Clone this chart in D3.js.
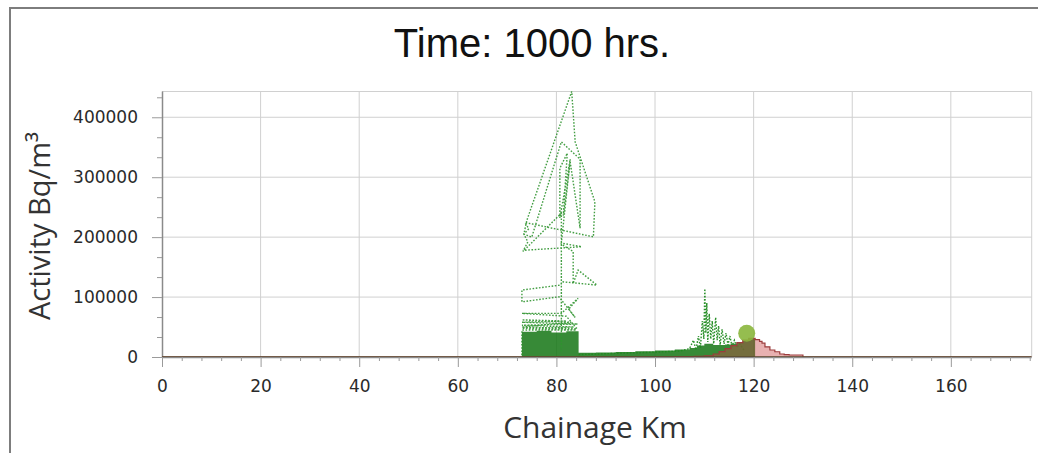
<!DOCTYPE html>
<html>
<head>
<meta charset="utf-8">
<script src="https://cdn.jsdelivr.net/npm/d3@7"></script>
<style>
  html, body { margin: 0; padding: 0; background: #ffffff; }
  svg { display: block; }
</style>
</head>
<body>
<svg id="chart" width="1038" height="453"></svg>
<script>
// ---- data ----------------------------------------------------------------
const titleText = "Time: 1000 hrs.";
const xTitle = "Chainage Km";
const yTitle = "Activity Bq/m³";

const xMajorTicks = [0, 20, 40, 60, 80, 100, 120, 140, 160];
const yMajorTicks = [0, 100000, 200000, 300000, 400000];

// predicted activity profile (stepped, pink)
const profileKm  = [0, 100, 104, 108, 110, 111.8, 113, 114.2, 115.4, 116.6, 117.8, 119, 120.3, 121.2, 121.7, 122.3, 123.3, 124.3, 125.3, 126.2, 127.2, 128.7, 130, 176.4];
const profileVal = [0, 0, 500, 1000, 2000, 5000, 9000, 14000, 19000, 24000, 28000, 31000, 29000, 26000, 23000, 17000, 11700, 8800, 5000, 4000, 3300, 3300, 0, 0];

// measured activity envelope (green fill)
const bandKm  = [73, 76, 79, 82, 84.5, 88, 92, 96, 100, 104, 107, 108.5, 110, 111.8, 113, 114.2, 115.4, 116.6, 117.8, 119, 120.3, 176.4];
const bandVal = [42000, 44000, 41000, 43000, 7000, 7500, 8500, 9500, 11000, 12500, 15000, 19000, 22000, 20000, 20000, 21000, 22000, 25000, 28000, 31000, 0, 0];

// survey trace, first cluster (km, Bq/m³ in recorded order)
const traceAKm = [73.0, 73.0, 84.0, 73.0, 83.5, 73.0, 84.3, 73.0, 82.0, 73.0, 83.0, 73.0, 84.2, 82.0, 73.0, 81.0, 84.4, 82.5, 83.8, 80.5, 73.0, 73.0, 80.8, 81.2, 88.2, 84.4, 83.4, 83.4, 81.0, 81.0, 81.0, 73.2, 74.2, 73.4, 74.4, 73.6, 74.6, 87.5, 87.8, 83.8, 83.1, 74.0, 73.4, 75.0, 81.0, 84.8, 84.8, 82.8, 81.4, 82.2, 80.7, 80.7, 82.8, 81.0, 85.1, 73.2];
const traceAVal = [3000, 45000, 45000, 48000, 50000, 53000, 55000, 58000, 60000, 62000, 58000, 50000, 47000, 68000, 72800, 72800, 97800, 80000, 66000, 100500, 92000, 111700, 120000, 125500, 120000, 145000, 122800, 176000, 188000, 8000, 240000, 176000, 192000, 205000, 214000, 224000, 222800, 200500, 259000, 359000, 443000, 228000, 205000, 200000, 359000, 330000, 215000, 325000, 236000, 340000, 315000, 232000, 330000, 190000, 184000, 178000];

// survey trace, second cluster
const traceBKm  = [84.5, 92, 100, 105, 107, 107.8, 108.3, 108.8, 109.2, 109.6, 109.9, 110.1, 110.3, 110.5, 110.7, 111.0, 111.3, 111.6, 111.9, 112.3, 112.6, 112.9, 113.2, 113.6, 114.0, 114.4, 114.8, 115.2, 115.6, 116.1, 116.6, 117.2, 118.0];
const traceBVal = [4000, 6000, 8000, 10000, 14000, 28000, 12000, 35000, 15000, 60000, 30000, 114000, 40000, 90000, 25000, 72000, 30000, 60000, 22000, 66000, 28000, 52000, 20000, 46000, 22000, 40000, 20000, 35000, 18000, 28000, 16000, 22000, 12000];

// current position marker
const markerKm = [118.6];
const markerVal = [39500];

// ---- layout ----------------------------------------------------------------
const svg = d3.select("#chart");
const plot = { left: 162, right: 1031.7, top: 91.5, bottom: 357 };

const x = d3.scaleLinear().domain([0, 176.4]).range([plot.left, plot.right]);
const y = d3.scaleLinear().domain([0, 443000]).range([plot.bottom, plot.top]);

// outer frame (left and top edges only visible)
svg.append("path")
  .attr("d", `M10,453 L10,8 L1040,8`)
  .attr("fill", "none").attr("stroke", "#7d7d7d").attr("stroke-width", 2);

// title
svg.append("text")
  .attr("x", 532).attr("y", 57)
  .attr("text-anchor", "middle")
  .attr("font-family", "'Liberation Sans', Arial, sans-serif")
  .attr("font-size", 40).attr("fill", "#111")
  .text(titleText);

// gridlines
const grid = svg.append("g").attr("stroke", "#d0d0d0").attr("stroke-width", 1);
xMajorTicks.filter(v => v > 0).forEach(v => {
  grid.append("line").attr("x1", x(v)).attr("x2", x(v)).attr("y1", plot.top).attr("y2", plot.bottom);
});
yMajorTicks.filter(v => v > 0).forEach(v => {
  grid.append("line").attr("x1", plot.left).attr("x2", plot.right).attr("y1", y(v)).attr("y2", y(v));
});
grid.append("line").attr("x1", plot.left).attr("x2", plot.right).attr("y1", plot.top).attr("y2", plot.top);
grid.append("line").attr("x1", plot.right).attr("x2", plot.right).attr("y1", plot.top).attr("y2", plot.bottom);

// axes
const xMinor = d3.range(0, 177, 4).filter(v => v % 20 !== 0);
const yMinor = d3.range(0, 443000, 100000 / 3).filter((v, i) => i % 3 !== 0);

const xAxis = svg.append("g").attr("transform", `translate(0,${plot.bottom})`);
xAxis.call(d3.axisBottom(x).tickValues(xMajorTicks).tickSize(10).tickPadding(13).tickFormat(d3.format("d")));
xAxis.append("g").call(d3.axisBottom(x).tickValues(xMinor).tickSize(4).tickFormat(""))
  .select(".domain").remove();

const yAxis = svg.append("g").attr("transform", `translate(${plot.left},0)`);
yAxis.call(d3.axisLeft(y).tickValues(yMajorTicks).tickSize(10).tickPadding(14).tickFormat(d3.format("d")));
yAxis.append("g").call(d3.axisLeft(y).tickValues(yMinor).tickSize(5).tickFormat(""))
  .select(".domain").remove();

svg.selectAll(".domain").attr("stroke", "#8a8a8a").attr("stroke-width", 1.5);
xAxis.select(".domain").attr("d", `M${plot.left},0.5H${plot.right}`);
yAxis.select(".domain").attr("d", `M0.5,${plot.top}V${plot.bottom}`);
svg.selectAll(".tick line").attr("stroke", "#9a9a9a");
svg.selectAll(".tick text")
  .attr("font-family", "'DejaVu Sans', Verdana, sans-serif")
  .attr("font-size", 17).attr("fill", "#2a2a2a");

// axis titles
svg.append("text")
  .attr("x", 595).attr("y", 438)
  .attr("text-anchor", "middle")
  .attr("font-family", "'Open Sans', 'Noto Sans', sans-serif")
  .attr("font-size", 30).attr("fill", "#333")
  .text(xTitle);

svg.append("text")
  .attr("transform", `translate(50,226) rotate(-90)`)
  .attr("text-anchor", "middle")
  .attr("font-family", "'Open Sans', 'Noto Sans', sans-serif")
  .attr("font-size", 29).attr("fill", "#333")
  .text(yTitle);

// ---- series ----------------------------------------------------------------
svg.append("clipPath").attr("id", "plotClip")
  .append("rect").attr("x", plot.left).attr("y", plot.top - 2)
  .attr("width", plot.right - plot.left).attr("height", plot.bottom - plot.top + 2);
const layer = svg.append("g").attr("clip-path", "url(#plotClip)");

const profile = profileKm.map((k, i) => [k, profileVal[i]]);
const band = bandKm.map((k, i) => [k, bandVal[i]]);
const traceA = traceAKm.map((k, i) => [k, traceAVal[i]]);
const traceB = traceBKm.map((k, i) => [k, traceBVal[i]]);

const stepArea = d3.area().curve(d3.curveStepAfter)
  .x(d => x(d[0])).y0(y(0)).y1(d => y(d[1]));
const stepLine = d3.line().curve(d3.curveStepAfter)
  .x(d => x(d[0])).y(d => y(d[1]));
const polyLine = d3.line().x(d => x(d[0])).y(d => y(d[1]));

layer.append("path").datum(band)
  .attr("d", stepArea).attr("fill", "rgba(20,118,20,0.85)");

layer.append("path").datum(traceA)
  .attr("d", polyLine).attr("fill", "none")
  .attr("stroke", "#2f932f").attr("stroke-width", 1.4)
  .attr("stroke-dasharray", "1.6 1.6").attr("opacity", 0.9);

layer.append("path").datum(traceB)
  .attr("d", polyLine).attr("fill", "none")
  .attr("stroke", "#1f8a1f").attr("stroke-width", 1.4)
  .attr("stroke-dasharray", "1.6 1.6").attr("opacity", 0.95);

// predicted profile drawn translucent over the measured fill
layer.append("path").datum(profile)
  .attr("d", stepArea).attr("fill", "rgba(200,70,70,0.42)");
layer.append("path").datum(profile)
  .attr("d", stepLine).attr("fill", "none").attr("stroke", "#9c3c3c").attr("stroke-width", 1.2);

// baseline trace along zero
layer.append("line")
  .attr("x1", x(0)).attr("x2", x(176.4)).attr("y1", y(0)).attr("y2", y(0))
  .attr("stroke", "#5a4a30").attr("stroke-width", 1.6);

layer.selectAll("circle.marker").data(markerKm.map((k, i) => [k, markerVal[i]]))
  .join("circle").attr("class", "marker")
  .attr("cx", d => x(d[0])).attr("cy", d => y(d[1])).attr("r", 8.5)
  .attr("fill", "rgba(138,182,60,0.9)");
</script>
</body>
</html>
